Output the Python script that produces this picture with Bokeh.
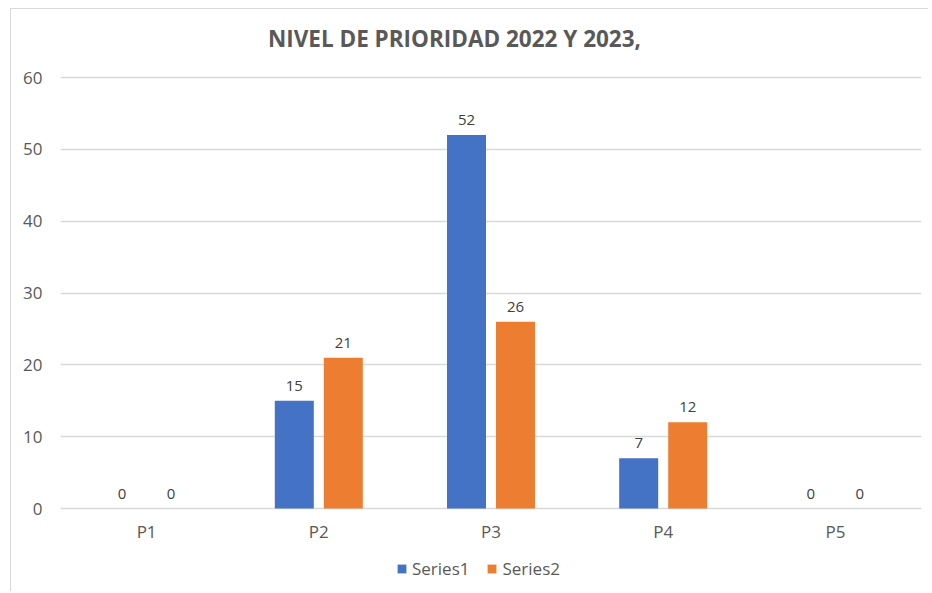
from bokeh.plotting import figure
from bokeh.models import (ColumnDataSource, FactorRange, Legend, LegendItem, LabelSet, Label,
                          Range1d, FixedTicker, Spacer)
from bokeh.layouts import column, row
from bokeh.transform import dodge
from bokeh.embed import file_html
from bokeh.resources import INLINE
from bokeh.core.properties import value

categories = ["P1", "P2", "P3", "P4", "P5"]
series1 = [0, 15, 52, 7, 0]
series2 = [0, 21, 26, 12, 0]
series_names = ["Series1", "Series2"]
title_text = "NIVEL DE PRIORIDAD 2022 Y 2023,"
y_ticks = [0, 10, 20, 30, 40, 50, 60]

BLUE = "#4472C4"
ORANGE = "#ED7D31"
TXT = "#595959"
GRID = "#D9D9D9"
FONT = "Open Sans"

# frame geometry (pixels): plot area spans value 0 -> 60 over 431 px
H = 583
TOP_GAP = 68      # frame top edge to the 60 line
BOTTOM_GAP = 84   # 0 line to frame bottom edge
ppu = (H - TOP_GAP - BOTTOM_GAP) / 60.0
y_lo = -BOTTOM_GAP / ppu
y_hi = 60 + TOP_GAP / ppu

src = ColumnDataSource(dict(cat=categories, s1=series1, s2=series2,
                            base=[0] * len(categories),
                            l1=[str(v) for v in series1], l2=[str(v) for v in series2]))

p = figure(x_range=FactorRange(*categories, range_padding=0), y_range=Range1d(y_lo, y_hi),
           width=918, height=H, output_backend="svg", toolbar_location=None,
           x_axis_location=None,
           min_border_left=49, min_border_right=8, min_border_top=0, min_border_bottom=0)
p.styles = {"border-left": "1px solid #D9D9D9", "border-top": "1px solid #D9D9D9"}

off = 0.1423
w = 0.2265
r1 = p.vbar(x=dodge("cat", -off, range=p.x_range), top="s1", bottom=0, width=w, source=src,
            fill_color=BLUE, line_color=None)
r2 = p.vbar(x=dodge("cat", off, range=p.x_range), top="s2", bottom=0, width=w, source=src,
            fill_color=ORANGE, line_color=None)

for col, lab, o in (("s1", "l1", -off), ("s2", "l2", off)):
    p.add_layout(LabelSet(x=dodge("cat", o, range=p.x_range), y=col, text=lab, source=src,
                          text_align="center", text_baseline="bottom", y_offset=10,
                          text_font=value(FONT), text_font_size="15px", text_color="#404040"))

# category labels under the 0 line
p.add_layout(LabelSet(x="cat", y="base", text="cat", source=src,
                      text_align="center", text_baseline="middle", y_offset=-23,
                      text_font=value(FONT), text_font_size="17px", text_color=TXT))

p.outline_line_color = None
for g in p.xgrid:
    g.grid_line_color = None
p.ygrid.grid_line_color = GRID
p.ygrid.grid_line_width = 1.5
p.yaxis.ticker = FixedTicker(ticks=y_ticks)

ax = p.yaxis[0]
ax.axis_line_color = None
ax.major_tick_line_color = None
ax.minor_tick_line_color = None
ax.major_tick_out = 0
ax.major_tick_in = 0
ax.major_label_text_font = FONT
ax.major_label_text_font_size = "17px"
ax.major_label_text_color = TXT
ax.major_label_standoff = 18

p.add_layout(Label(x=394, y=H - 29, x_units="screen", y_units="screen", text=title_text,
                   text_align="center", text_baseline="middle", text_font=FONT,
                   text_font_size="22.5px", text_font_style="bold", text_color=TXT))

legend = Legend(items=[LegendItem(label=series_names[0], renderers=[r1]),
                       LegendItem(label=series_names[1], renderers=[r2])],
                location=(336, 12), orientation="horizontal",
                glyph_width=11, glyph_height=11, label_standoff=5, spacing=17,
                label_height=22, padding=0, margin=0, border_line_color=None,
                background_fill_alpha=0,
                label_text_font=FONT, label_text_font_size="17px", label_text_color=TXT)
p.add_layout(legend, "center")

page = column(Spacer(height=8, width=10), row(Spacer(width=10, height=10), p))
open("out.html", "w").write(file_html(page, INLINE))
